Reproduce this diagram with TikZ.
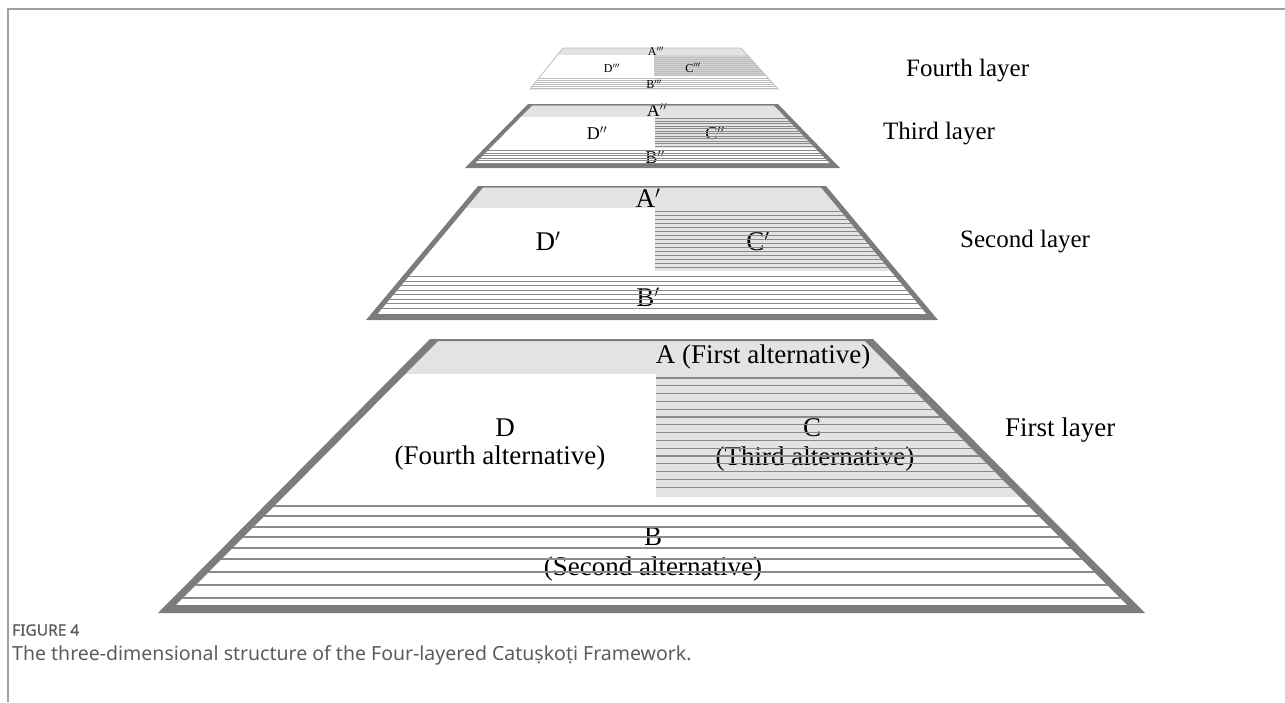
\documentclass[tikz,border=0pt]{standalone}
\usepackage{fontspec}
\setmainfont{Liberation Serif}
\newfontfamily\capfont{Noto Sans}
\newfontfamily\capheadfont{Noto Sans}[FakeBold=1.2]
\definecolor{bandgray}{HTML}{E3E3E3}
\definecolor{topgray}{HTML}{D2D2D2}
\definecolor{ruledark}{HTML}{8A8A8A}
\definecolor{rulelight}{HTML}{BDBDBD}
\definecolor{rimgray}{HTML}{7C7C7C}
\definecolor{framegray}{HTML}{A0A0A0}
\definecolor{captext}{HTML}{5C5C5C}
\begin{document}
\begin{tikzpicture}[x=1pt,y=-1pt,
  lbl/.style={inner sep=0pt, font=\fontsize{27}{30}\selectfont},
  lblm/.style={inner sep=0pt, font=\fontsize{18}{20}\selectfont},
  lbls/.style={inner sep=0pt, font=\fontsize{12}{13}\selectfont},
  layername/.style={inner sep=0pt, anchor=west, font=\fontsize{25}{28}\selectfont},
  band/.style={fill=bandgray},
  hatch/.style={draw=ruledark, line width=1.3pt},
  midhatch/.style={draw=ruledark, line width=0.9pt},
  finehatch/.style={draw=ruledark, line width=0.6pt},
  tinyhatch/.style={draw=rulelight, line width=0.6pt},
  rim/.style={fill=rimgray, even odd rule},
  captitle/.style={inner sep=0pt, anchor=west, text=captext, font=\capheadfont\fontsize{15.5}{17}\selectfont},
  capbody/.style={inner sep=0pt, anchor=west, text=captext, font=\capfont\fontsize{19.5}{22}\selectfont},
]
\useasboundingbox (0,0) rectangle (1285,702);
% page frame
\draw[framegray, line width=1.5pt] (8,702) -- (8,9) -- (1285,9);

% ---------------- first layer ----------------
\coordinate (o1a) at (430,339);  \coordinate (o1b) at (873,339);
\coordinate (o1c) at (1145,613); \coordinate (o1d) at (158,613);
\coordinate (i1a) at (438,341);  \coordinate (i1b) at (865,341);
\coordinate (i1c) at (1127,605); \coordinate (i1d) at (176,605);
\begin{scope}
  \clip (i1a) -- (i1b) -- (i1c) -- (i1d) -- cycle;
  \fill[band] (100,339) rectangle (1200,374);
  \fill[band] (656,374) rectangle (1200,497);
\end{scope}
\node[lbl] (A1) at (763,357) {A (First alternative)};
\node[lbl] (D1) at (505,428) {D};
\node[lbl] (D1t) at (500,458) {(Fourth alternative)};
\node[lbl] (C1) at (812,428) {C};
\node[lbl] (C1t) at (815,459) {(Third alternative)};
\node[lbl] (B1) at (653,537) {B};
\node[lbl] (B1t) at (653,569) {(Second alternative)};
\begin{scope}
  \clip (i1a) -- (i1b) -- (i1c) -- (i1d) -- cycle;
  \foreach \y in {378,385.8,...,495} \draw[hatch] (656,\y) -- (1200,\y);
  \foreach \y in {506,516,527,537,548,559,572,585,598} \draw[hatch] (100,\y) -- (1200,\y);
\end{scope}
\fill[rim] (o1a) -- (o1b) -- (o1c) -- (o1d) -- cycle
           (i1a) -- (i1b) -- (i1c) -- (i1d) -- cycle;
\node[layername, font=\fontsize{27}{30}\selectfont] (N1) at (1005,430) {First layer};

% ---------------- second layer ----------------
\coordinate (o2a) at (478,186);  \coordinate (o2b) at (826,186);
\coordinate (o2c) at (938,320);  \coordinate (o2d) at (366,320);
\coordinate (i2a) at (483,187.5); \coordinate (i2b) at (821,187.5);
\coordinate (i2c) at (926.5,314); \coordinate (i2d) at (377.5,314);
\begin{scope}
  \clip (i2a) -- (i2b) -- (i2c) -- (i2d) -- cycle;
  \fill[band] (300,186) rectangle (1000,208);
  \fill[band] (655,208) rectangle (1000,271);
\end{scope}
\node[lbl] (A2) at (648,198) {A$'$};
\node[lbl] (D2) at (548,241) {D$'$};
\node[lbl] (C2) at (758,241) {C$'$};
\node[lbl] (B2) at (648,297) {B$'$};
\begin{scope}
  \clip (i2a) -- (i2b) -- (i2c) -- (i2d) -- cycle;
  \foreach \y in {211,215,...,270} \draw[midhatch] (655,\y) -- (1000,\y);
  \foreach \y in {276.5,281,...,312} \draw[midhatch] (300,\y) -- (1000,\y);
\end{scope}
\fill[rim] (o2a) -- (o2b) -- (o2c) -- (o2d) -- cycle
           (i2a) -- (i2b) -- (i2c) -- (i2d) -- cycle;
\node[layername] (N2) at (960,242) {Second layer};

% ---------------- third layer ----------------
\coordinate (o3a) at (528,104);  \coordinate (o3b) at (778,104);
\coordinate (o3c) at (840,168);  \coordinate (o3d) at (465,168);
\coordinate (i3a) at (532,105.5); \coordinate (i3b) at (774,105.5);
\coordinate (i3c) at (830.5,164); \coordinate (i3d) at (474.5,164);
\begin{scope}
  \clip (i3a) -- (i3b) -- (i3c) -- (i3d) -- cycle;
  \fill[band] (400,104) rectangle (900,117);
  \fill[band] (655,117) rectangle (900,148);
\end{scope}
\node[lblm] (A3) at (657,110) {A$''$};
\node[lblm] (D3) at (597,133) {D$''$};
\node[lblm] (C3) at (715,133) {C$''$};
\node[lblm] (B3) at (655,157) {B$''$};
\begin{scope}
  \clip (i3a) -- (i3b) -- (i3c) -- (i3d) -- cycle;
  \foreach \y in {118.5,121,...,148} \draw[finehatch] (655,\y) -- (900,\y);
  \foreach \y in {150.5,153,...,164} \draw[finehatch] (400,\y) -- (900,\y);
\end{scope}
\fill[rim] (o3a) -- (o3b) -- (o3c) -- (o3d) -- cycle
           (i3a) -- (i3b) -- (i3c) -- (i3d) -- cycle;
\node[layername] (N3) at (883,134) {Third layer};

% ---------------- fourth layer ----------------
\coordinate (o4a) at (563,48);  \coordinate (o4b) at (741,48);
\coordinate (o4c) at (778,89);  \coordinate (o4d) at (530,89);
\begin{scope}
  \clip (o4a) -- (o4b) -- (o4c) -- (o4d) -- cycle;
  \fill[band] (500,48) rectangle (800,55);
  \fill[topgray] (654,55) rectangle (800,76);
  \foreach \y in {57,59,...,76} \draw[tinyhatch] (654,\y) -- (800,\y);
  \foreach \y in {78,80,...,89} \draw[tinyhatch] (500,\y) -- (800,\y);
\end{scope}
\draw[rulelight, line width=0.8pt] (o4a) -- (o4b) -- (o4c) -- (o4d) -- cycle;
\node[lbls] (A4) at (656,51.5) {A$'''$};
\node[lbls] (D4) at (612,68) {D$'''$};
\node[lbls] (C4) at (693,68) {C$'''$};
\node[lbls] (B4) at (654,84) {B$'''$};
\node[layername] (N4) at (906,71) {Fourth layer};

% ---------------- caption ----------------
\node[captitle] (fig) at (12,630) {FIGURE 4};
\node[capbody] (cap) at (12,655) {The three-dimensional structure of the Four-layered Catuṣkoṭi Framework.};
\end{tikzpicture}
\end{document}
